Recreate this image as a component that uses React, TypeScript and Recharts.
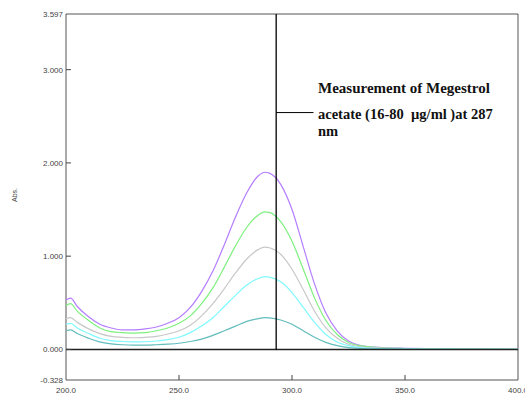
import React from "react";
import { LineChart, Line, XAxis, YAxis, ReferenceLine, ReferenceArea } from "recharts";

const wavelengths = [200, 202, 205, 210, 215, 220, 225, 230, 235, 240, 245, 250, 255, 260, 265, 270, 275, 280, 285, 288, 290, 295, 300, 305, 310, 315, 320, 325, 330, 340, 350, 360, 380, 400];
const conc80 = [0.53, 0.55, 0.46, 0.35, 0.27, 0.23, 0.21, 0.21, 0.22, 0.24, 0.28, 0.34, 0.45, 0.62, 0.84, 1.12, 1.42, 1.68, 1.86, 1.9, 1.89, 1.77, 1.5, 1.1, 0.7, 0.39, 0.2, 0.09, 0.045, 0.02, 0.012, 0.008, 0.004, 0.0];
const conc64 = [0.47, 0.49, 0.41, 0.31, 0.23, 0.19, 0.18, 0.175, 0.18, 0.2, 0.23, 0.28, 0.36, 0.49, 0.66, 0.88, 1.11, 1.31, 1.44, 1.476, 1.47, 1.37, 1.16, 0.86, 0.55, 0.31, 0.16, 0.075, 0.04, 0.018, 0.01, 0.007, 0.004, 0.0];
const conc48 = [0.33, 0.34, 0.29, 0.22, 0.17, 0.14, 0.13, 0.125, 0.13, 0.14, 0.165, 0.2, 0.26, 0.36, 0.49, 0.65, 0.82, 0.97, 1.07, 1.097, 1.09, 1.02, 0.86, 0.64, 0.41, 0.23, 0.12, 0.055, 0.03, 0.014, 0.008, 0.005, 0.003, 0.0];
const conc32 = [0.27, 0.28, 0.23, 0.17, 0.12, 0.095, 0.085, 0.08, 0.082, 0.09, 0.105, 0.13, 0.18, 0.25, 0.34, 0.46, 0.58, 0.69, 0.76, 0.78, 0.775, 0.725, 0.61, 0.45, 0.29, 0.16, 0.08, 0.04, 0.02, 0.01, 0.006, 0.004, 0.002, 0.0];
const conc16 = [0.2, 0.21, 0.17, 0.12, 0.08, 0.06, 0.05, 0.046, 0.046, 0.05, 0.056, 0.066, 0.085, 0.11, 0.15, 0.2, 0.25, 0.3, 0.33, 0.34, 0.338, 0.315, 0.27, 0.2, 0.13, 0.075, 0.04, 0.02, 0.01, 0.005, 0.003, 0.002, 0.001, 0.0];

const xTicks = [200, 250, 300, 350, 400];
const yTicks = [-0.328, 0, 1, 2, 3, 3.597];
const markerWavelength = 293;
const annotationLines = ["Measurement of Megestrol", "acetate (16-80  \u00b5g/ml )at 287", "nm"];

const series = [
  { key: "c80", values: conc80, color: "#b57dff" },
  { key: "c64", values: conc64, color: "#7ef07e" },
  { key: "c48", values: conc48, color: "#c8c8c8" },
  { key: "c32", values: conc32, color: "#7ff9ff" },
  { key: "c16", values: conc16, color: "#63bdbd" },
];

const data = wavelengths.map((w, i) => {
  const row: Record<string, number> = { w };
  series.forEach((s) => (row[s.key] = s.values[i]));
  return row;
});

const YTick = (props: any) => {
  const { x, y, payload } = props;
  const v = payload.value;
  const showMark = v !== -0.328 && v !== 3.597;
  return (
    <g>
      <text x={x} y={y} dy={3} textAnchor="end" fontSize={8} fill="#444" fontFamily="Liberation Sans, Arial, sans-serif">
        {v.toFixed(3)}
      </text>
      {showMark && <line x1={x + 3} x2={x + 8} y1={y} y2={y} stroke="#444" strokeWidth={1} />}
    </g>
  );
};

const XTick = (props: any) => {
  const { x, y, payload } = props;
  const v = payload.value;
  const showMark = v !== 200 && v !== 400;
  return (
    <g>
      <text x={x} y={y} dy={10} textAnchor="middle" fontSize={8} fill="#444" fontFamily="Liberation Sans, Arial, sans-serif">
        {v.toFixed(1)}
      </text>
      {showMark && <line x1={x} x2={x} y1={y - 3} y2={y - 8} stroke="#444" strokeWidth={1} />}
    </g>
  );
};

export default function App() {
  return (
    <div style={{ position: "absolute", left: 0, top: 0, width: 525, height: 395, background: "#fff" }}>
      <LineChart width={525} height={395} data={data} margin={{ top: 14, right: 7, bottom: 0, left: 0 }}>
        <XAxis
          dataKey="w"
          type="number"
          domain={[200, 400]}
          ticks={xTicks}
          height={15}
          axisLine={false}
          tickLine={false}
          tickSize={3}
          tickMargin={0}
          tick={<XTick />}
          interval={0}
        />
        <YAxis
          type="number"
          domain={[-0.328, 3.597]}
          ticks={yTicks}
          width={66}
          axisLine={false}
          tickLine={false}
          tickSize={3}
          tickMargin={0}
          tick={<YTick />}
          interval={0}
        />
        <ReferenceArea x1={200} x2={400} y1={-0.328} y2={3.597} fill="none" stroke="#555" strokeWidth={1} ifOverflow="visible" />
        {series.map((s) => (
          <Line key={s.key} dataKey={s.key} type="monotone" stroke={s.color} strokeWidth={1.2} dot={false} isAnimationActive={false} />
        ))}
        <ReferenceLine y={0} stroke="#222" strokeWidth={1.5} />
        <ReferenceLine
          segment={[
            { x: markerWavelength, y: 0 },
            { x: markerWavelength, y: 3.597 },
          ]}
          stroke="#000"
          strokeWidth={1.3}
        />
        <ReferenceLine
          segment={[
            { x: markerWavelength, y: 2.54 },
            { x: 309.5, y: 2.54 },
          ]}
          stroke="#000"
          strokeWidth={1}
        />
      </LineChart>
      <div
        style={{
          position: "absolute",
          left: 14,
          top: 195,
          transform: "translate(-50%, -50%) rotate(-90deg)",
          fontSize: 7,
          color: "#444",
          fontFamily: "Liberation Sans, Arial, sans-serif",
          whiteSpace: "nowrap",
        }}
      >
        Abs.
      </div>
      <div
        style={{
          position: "absolute",
          left: 318,
          top: 80,
          fontFamily: "Liberation Serif, Times New Roman, serif",
          fontWeight: "bold",
          fontSize: 15,
          color: "#111",
          whiteSpace: "pre",
          lineHeight: "17px",
        }}
      >
        <div style={{ marginBottom: 9 }}>{annotationLines[0]}</div>
        <div style={{ fontSize: 14.5 }}>{annotationLines[1]}</div>
        <div style={{ fontSize: 14.5 }}>{annotationLines[2]}</div>
      </div>
    </div>
  );
}
